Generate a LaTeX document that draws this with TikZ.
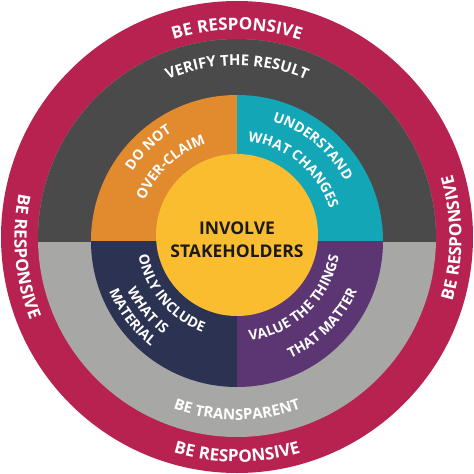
\documentclass[tikz,border=0pt]{standalone}
\usepackage{fontspec}
\setmainfont{Open Sans}
\usepackage{xcolor}
\usepackage{tikz}
\usetikzlibrary{decorations.text}

\definecolor{respcol}{HTML}{B72251}
\definecolor{verifycol}{HTML}{4B4A4A}
\definecolor{transpcol}{HTML}{A7A7A5}
\definecolor{claimcol}{HTML}{E18B2E}
\definecolor{changecol}{HTML}{12A6B7}
\definecolor{materialcol}{HTML}{2B3252}
\definecolor{valuecol}{HTML}{5C3573}
\definecolor{corecol}{HTML}{FBBD30}
\definecolor{inkcol}{HTML}{1A1A1A}

\newcommand\ringfont{\bfseries\fontsize{17}{20}\selectfont\color{white}}
\newcommand\bandfont{\bfseries\fontsize{15}{18}\selectfont\color{white}}
\newcommand\petalfont{\bfseries\fontsize{14}{17}\selectfont\color{white}}

\tikzset{
  ringlabel/.style={decorate, decoration={text along path, text align=center, text={#1}}},
}

\begin{document}
\begin{tikzpicture}[x=1pt,y=1pt]
\useasboundingbox (-237,-236) rectangle (237,238);
\fill[respcol] (0,1) circle[radius=236];
\fill[transpcol] (0,0) circle[radius=199];
\begin{scope}
\clip (-200,-3) rectangle (200,200);
\fill[verifycol] (0,0) circle[radius=199];
\end{scope}
\fill[claimcol] (0,-3) -- ++(90:146) arc[start angle=90, end angle=180, radius=146] -- cycle;
\fill[changecol] (0,-3) -- ++(0:146) arc[start angle=0, end angle=90, radius=146] -- cycle;
\fill[materialcol] (0,-3) -- ++(180:146) arc[start angle=180, end angle=270, radius=146] -- cycle;
\fill[valuecol] (0,-3) -- ++(270:146) arc[start angle=270, end angle=360, radius=146] -- cycle;
\fill[corecol] (0,3) circle[radius=81];
\node[font=\bfseries\fontsize{17.5}{23}\selectfont, text=inkcol, align=center] (core) at (0,-2) {INVOLVE\\STAKEHOLDERS};
\path[ringlabel={|\ringfont|BE RESPONSIVE}] (135:208) arc[start angle=135, end angle=45, radius=208];
\path[ringlabel={|\ringfont|BE RESPONSIVE}] (225:224) arc[start angle=225, end angle=315, radius=224];
\path[ringlabel={|\ringfont|BE RESPONSIVE}] (140:222.5) arc[start angle=140, end angle=230, radius=222.5];
\path[ringlabel={|\ringfont|BE RESPONSIVE}] (-45:224.5) arc[start angle=-45, end angle=45, radius=224.5];
\path[ringlabel={|\bandfont|VERIFY THE RESULT}] (140:172.5) arc[start angle=140, end angle=40, radius=172.5];
\path[ringlabel={|\bandfont|BE TRANSPARENT}] (220:182) arc[start angle=220, end angle=320, radius=182];
\path[ringlabel={|\petalfont|DO NOT}] (175:124) arc[start angle=175, end angle=94, radius=124];
\path[ringlabel={|\petalfont|OVER-CLAIM}] (178:99.5) arc[start angle=178, end angle=88, radius=99.5];
\path[ringlabel={|\petalfont|UNDERSTAND}] (95:122) arc[start angle=95, end angle=6, radius=122];
\path[ringlabel={|\petalfont|WHAT CHANGES}] (95:97) arc[start angle=95, end angle=6, radius=97];
\path[ringlabel={|\petalfont|ONLY INCLUDE}] (175:100) arc[start angle=175, end angle=265, radius=100];
\path[ringlabel={|\petalfont|WHAT IS}] (174:121.5) arc[start angle=174, end angle=264, radius=121.5];
\path[ringlabel={|\petalfont|MATERIAL}] (172:138.5) arc[start angle=172, end angle=262, radius=138.5];
\path[ringlabel={|\petalfont|VALUE THE THINGS}] (266:103.5) arc[start angle=266, end angle=361, radius=103.5];
\path[ringlabel={|\petalfont|THAT MATTER}] (270:131.5) arc[start angle=270, end angle=360, radius=131.5];
\end{tikzpicture}
\end{document}
